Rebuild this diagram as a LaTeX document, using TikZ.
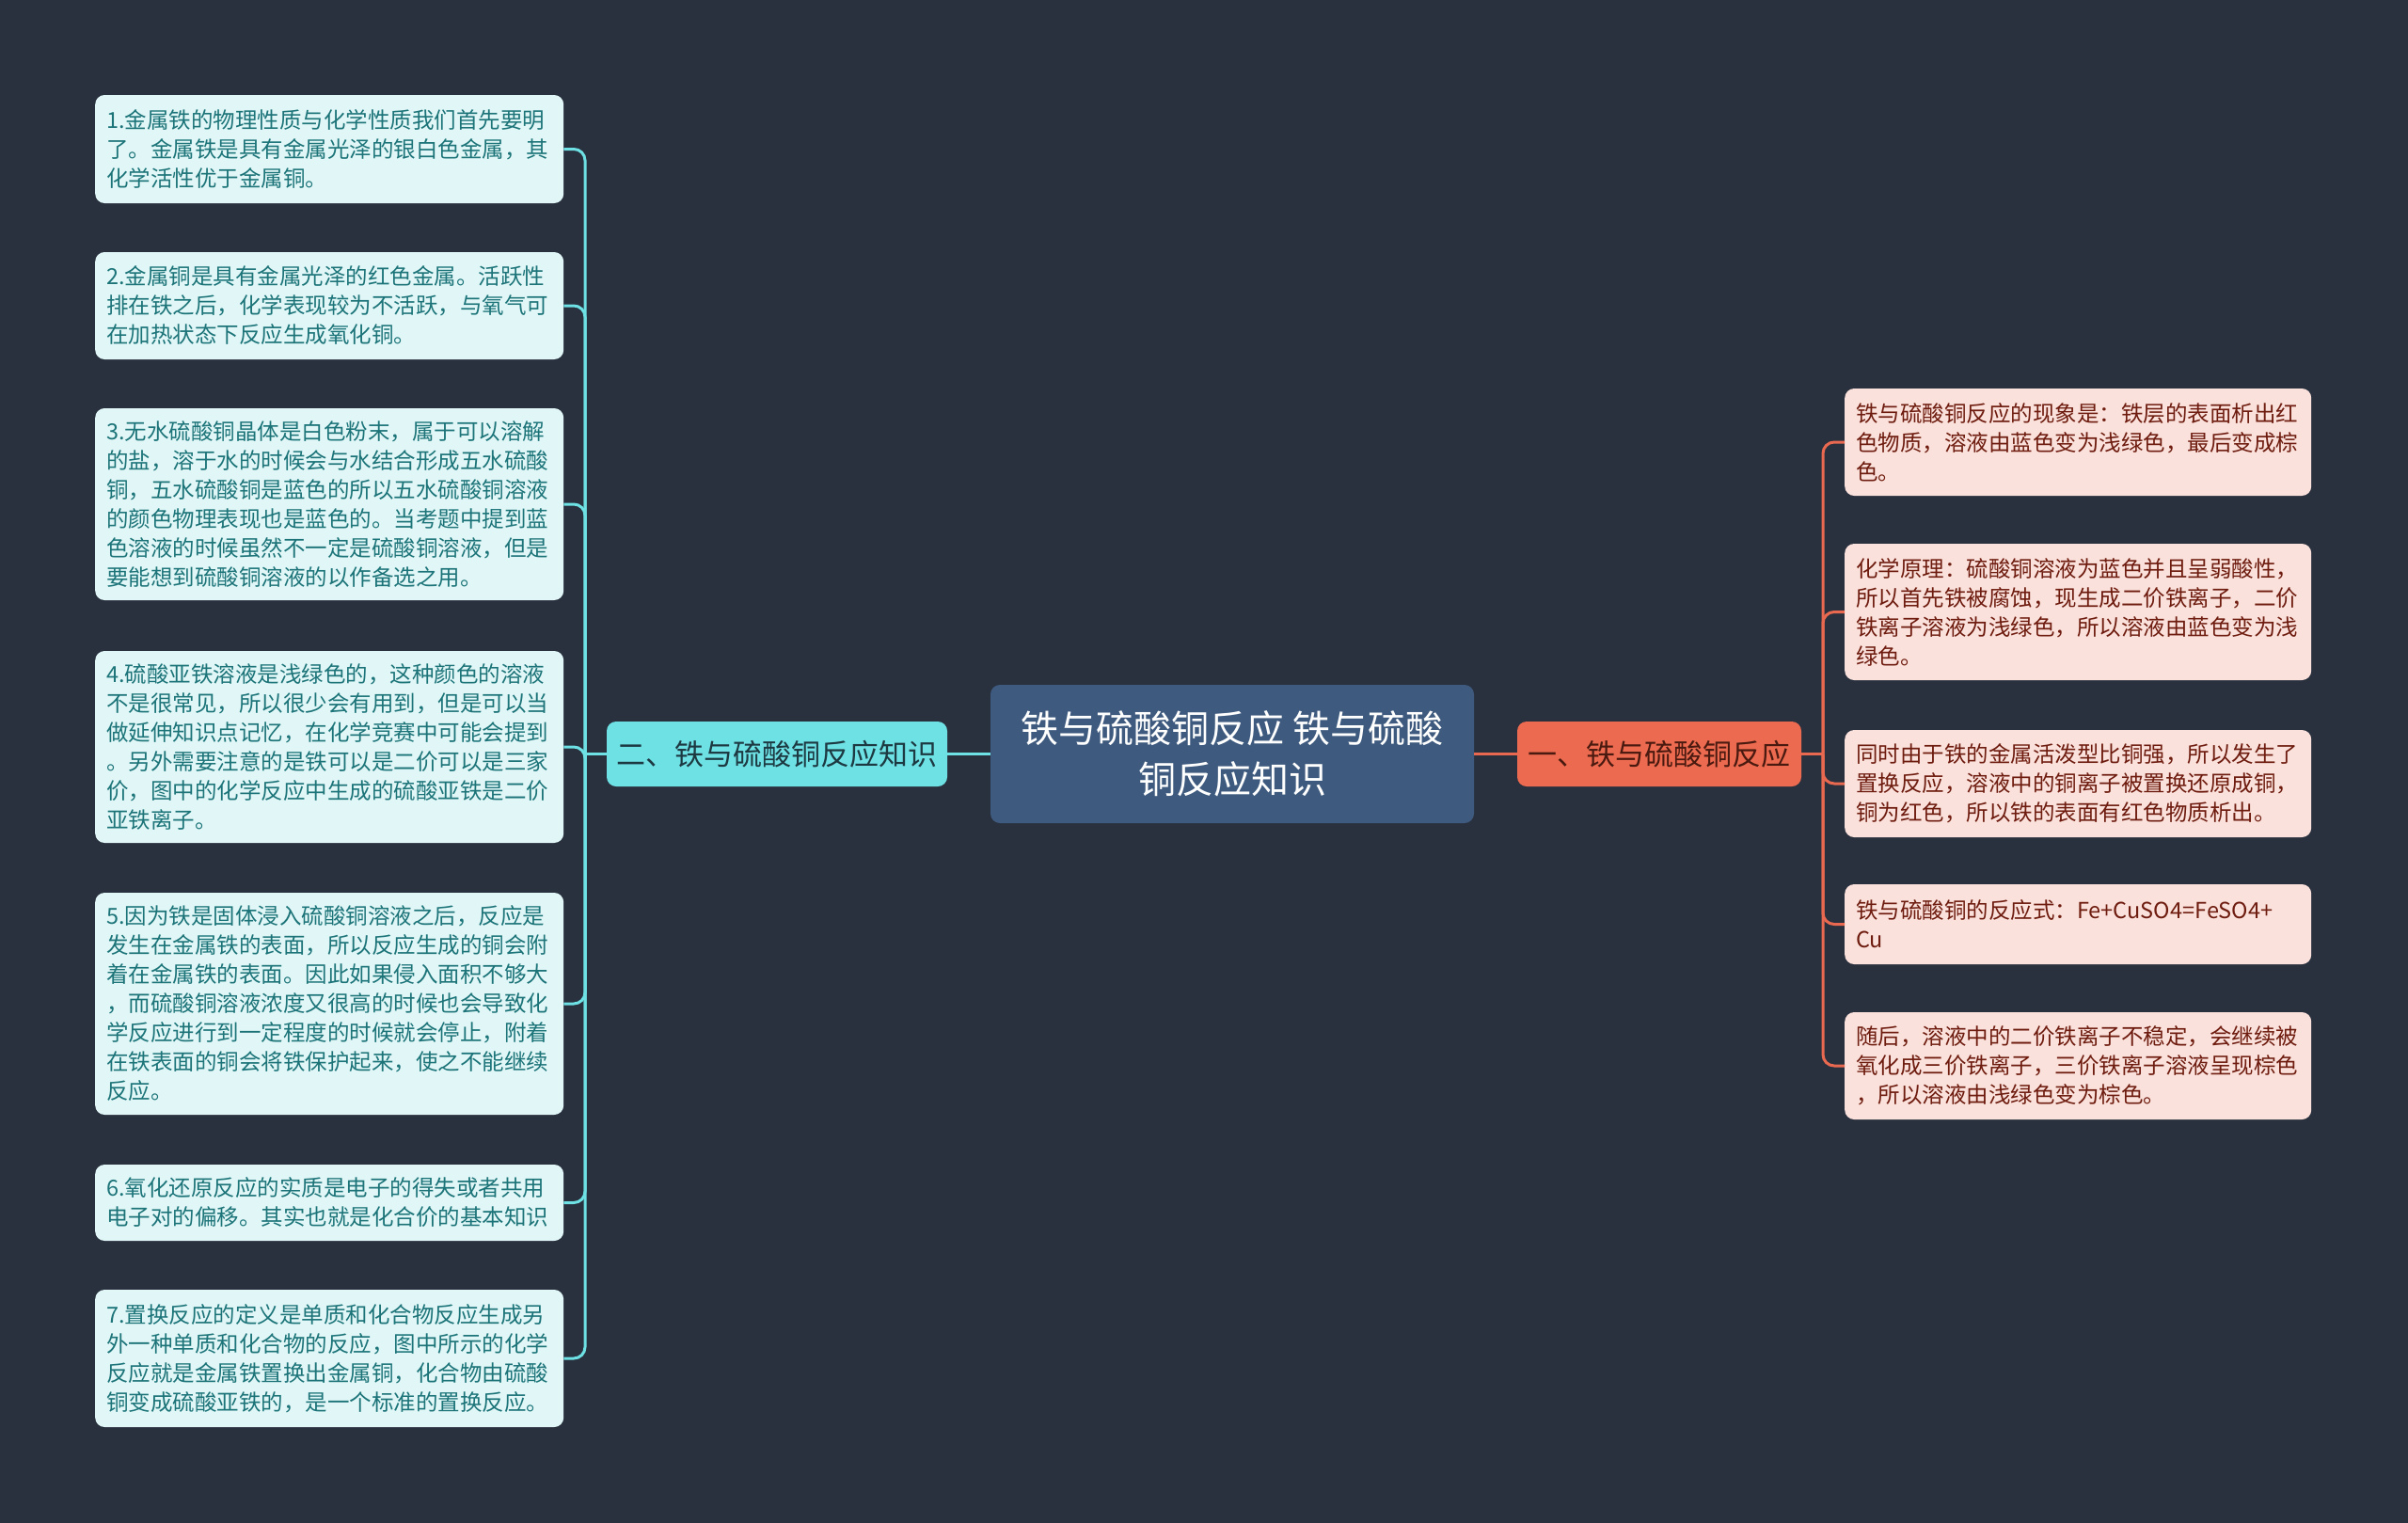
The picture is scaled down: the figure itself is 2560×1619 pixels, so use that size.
\documentclass[tikz,border=0pt]{standalone}
\usepackage{fontspec}
\newfontfamily\cjk{Noto Sans CJK SC}
\definecolor{bgc}{HTML}{29303E}
\definecolor{centerfill}{HTML}{3E5A7E}
\definecolor{lbfill}{HTML}{6EE1E4}
\definecolor{lbtext}{HTML}{1D3942}
\definecolor{rbfill}{HTML}{EC6A4F}
\definecolor{rbtext}{HTML}{4A1A10}
\definecolor{llfill}{HTML}{E1F7F7}
\definecolor{lltext}{HTML}{1C7479}
\definecolor{rlfill}{HTML}{FBE1DB}
\definecolor{rltext}{HTML}{6E1C0F}
\definecolor{lline}{HTML}{6EE1E4}
\definecolor{rline}{HTML}{E8694F}
\begin{document}
\begin{tikzpicture}[x=1pt,y=-1pt,
  leafL/.style={fill=llfill, text=lltext, rounded corners=10pt, anchor=west,
    text width=474pt, inner xsep=12pt, inner ysep=0pt, align=left,
    font=\cjk\fontsize{23.5}{31}\selectfont},
  leafR/.style={fill=rlfill, text=rltext, rounded corners=10pt, anchor=west,
    text width=472pt, inner xsep=12pt, inner ysep=0pt, align=left,
    font=\cjk\fontsize{23.5}{31}\selectfont},
  centerbox/.style={fill=centerfill, text=white, rounded corners=10pt,
    minimum width=514pt, minimum height=147pt, align=center,
    font=\cjk\fontsize{40}{54}\selectfont},
  branchL/.style={fill=lbfill, text=lbtext, rounded corners=10pt,
    minimum width=362pt, minimum height=69pt, inner sep=0pt,
    font=\cjk\fontsize{31}{38}\selectfont},
  branchR/.style={fill=rbfill, text=rbtext, rounded corners=10pt,
    minimum width=302pt, minimum height=69pt, inner sep=0pt,
    font=\cjk\fontsize{31}{38}\selectfont},
  connL/.style={draw=lline, line width=3pt, rounded corners=12pt},
  connR/.style={draw=rline, line width=3pt, rounded corners=12pt}
]
\fill[bgc] (0,0) rectangle (2560,1619);
\useasboundingbox (0,0) rectangle (2560,1619);

% central and branches
\node[centerbox] (c) at (1310,801.5) {铁与硫酸铜反应 铁与硫酸\\铜反应知识};
\node[branchL] (lb) at (826,801.5) {二、铁与硫酸铜反应知识};
\node[branchR] (rb) at (1764,801.5) {一、铁与硫酸铜反应};

% left leaves
\node[leafL, minimum height=115pt] (L1) at (101,158.5) {1.金属铁的物理性质与化学性质我们首先要明\\了。金属铁是具有金属光泽的银白色金属，其\\化学活性优于金属铜。};
\node[leafL, minimum height=114pt] (L2) at (101,325) {2.金属铜是具有金属光泽的红色金属。活跃性\\排在铁之后，化学表现较为不活跃，与氧气可\\在加热状态下反应生成氧化铜。};
\node[leafL, minimum height=204pt] (L3) at (101,536) {3.无水硫酸铜晶体是白色粉末，属于可以溶解\\的盐，溶于水的时候会与水结合形成五水硫酸\\铜，五水硫酸铜是蓝色的所以五水硫酸铜溶液\\的颜色物理表现也是蓝色的。当考题中提到蓝\\色溶液的时候虽然不一定是硫酸铜溶液，但是\\要能想到硫酸铜溶液的以作备选之用。};
\node[leafL, minimum height=204pt] (L4) at (101,794) {4.硫酸亚铁溶液是浅绿色的，这种颜色的溶液\\不是很常见，所以很少会有用到，但是可以当\\做延伸知识点记忆，在化学竞赛中可能会提到\\。另外需要注意的是铁可以是二价可以是三家\\价，图中的化学反应中生成的硫酸亚铁是二价\\亚铁离子。};
\node[leafL, minimum height=236pt] (L5) at (101,1067) {5.因为铁是固体浸入硫酸铜溶液之后，反应是\\发生在金属铁的表面，所以反应生成的铜会附\\着在金属铁的表面。因此如果侵入面积不够大\\，而硫酸铜溶液浓度又很高的时候也会导致化\\学反应进行到一定程度的时候就会停止，附着\\在铁表面的铜会将铁保护起来，使之不能继续\\反应。};
\node[leafL, minimum height=81pt] (L6) at (101,1278.5) {6.氧化还原反应的实质是电子的得失或者共用\\电子对的偏移。其实也就是化合价的基本知识};
\node[leafL, minimum height=146pt] (L7) at (101,1444) {7.置换反应的定义是单质和化合物反应生成另\\外一种单质和化合物的反应，图中所示的化学\\反应就是金属铁置换出金属铜，化合物由硫酸\\铜变成硫酸亚铁的，是一个标准的置换反应。};

% right leaves
\node[leafR, minimum height=114pt] (R1) at (1961,470) {铁与硫酸铜反应的现象是：铁层的表面析出红\\色物质，溶液由蓝色变为浅绿色，最后变成棕\\色。};
\node[leafR, minimum height=145pt] (R2) at (1961,650.5) {化学原理：硫酸铜溶液为蓝色并且呈弱酸性，\\所以首先铁被腐蚀，现生成二价铁离子，二价\\铁离子溶液为浅绿色，所以溶液由蓝色变为浅\\绿色。};
\node[leafR, minimum height=114pt] (R3) at (1961,833) {同时由于铁的金属活泼型比铜强，所以发生了\\置换反应，溶液中的铜离子被置换还原成铜，\\铜为红色，所以铁的表面有红色物质析出。};
\node[leafR, minimum height=85pt] (R4) at (1961,982.5) {铁与硫酸铜的反应式：Fe+CuSO4=FeSO4+\\Cu};
\node[leafR, minimum height=114pt] (R5) at (1961,1133) {随后，溶液中的二价铁离子不稳定，会继续被\\氧化成三价铁离子，三价铁离子溶液呈现棕色\\，所以溶液由浅绿色变为棕色。};

% trunk junctions
\coordinate (lt) at (622,801.5);
\coordinate (rt) at (1938,801.5);

% center to branches
\draw[connL] (c.west) -- (lb.east);
\draw[connR] (c.east) -- (rb.west);
\draw[connL] (lb.west) -- (lt);
\draw[connR] (rb.east) -- (rt);

% left connectors
\foreach \n in {L1,L2,L3,L4,L5,L6,L7}
  \draw[connL] (lt) |- (\n.east);
% right connectors
\foreach \n in {R1,R2,R3,R4,R5}
  \draw[connR] (rt) |- (\n.west);
\end{tikzpicture}
\end{document}
